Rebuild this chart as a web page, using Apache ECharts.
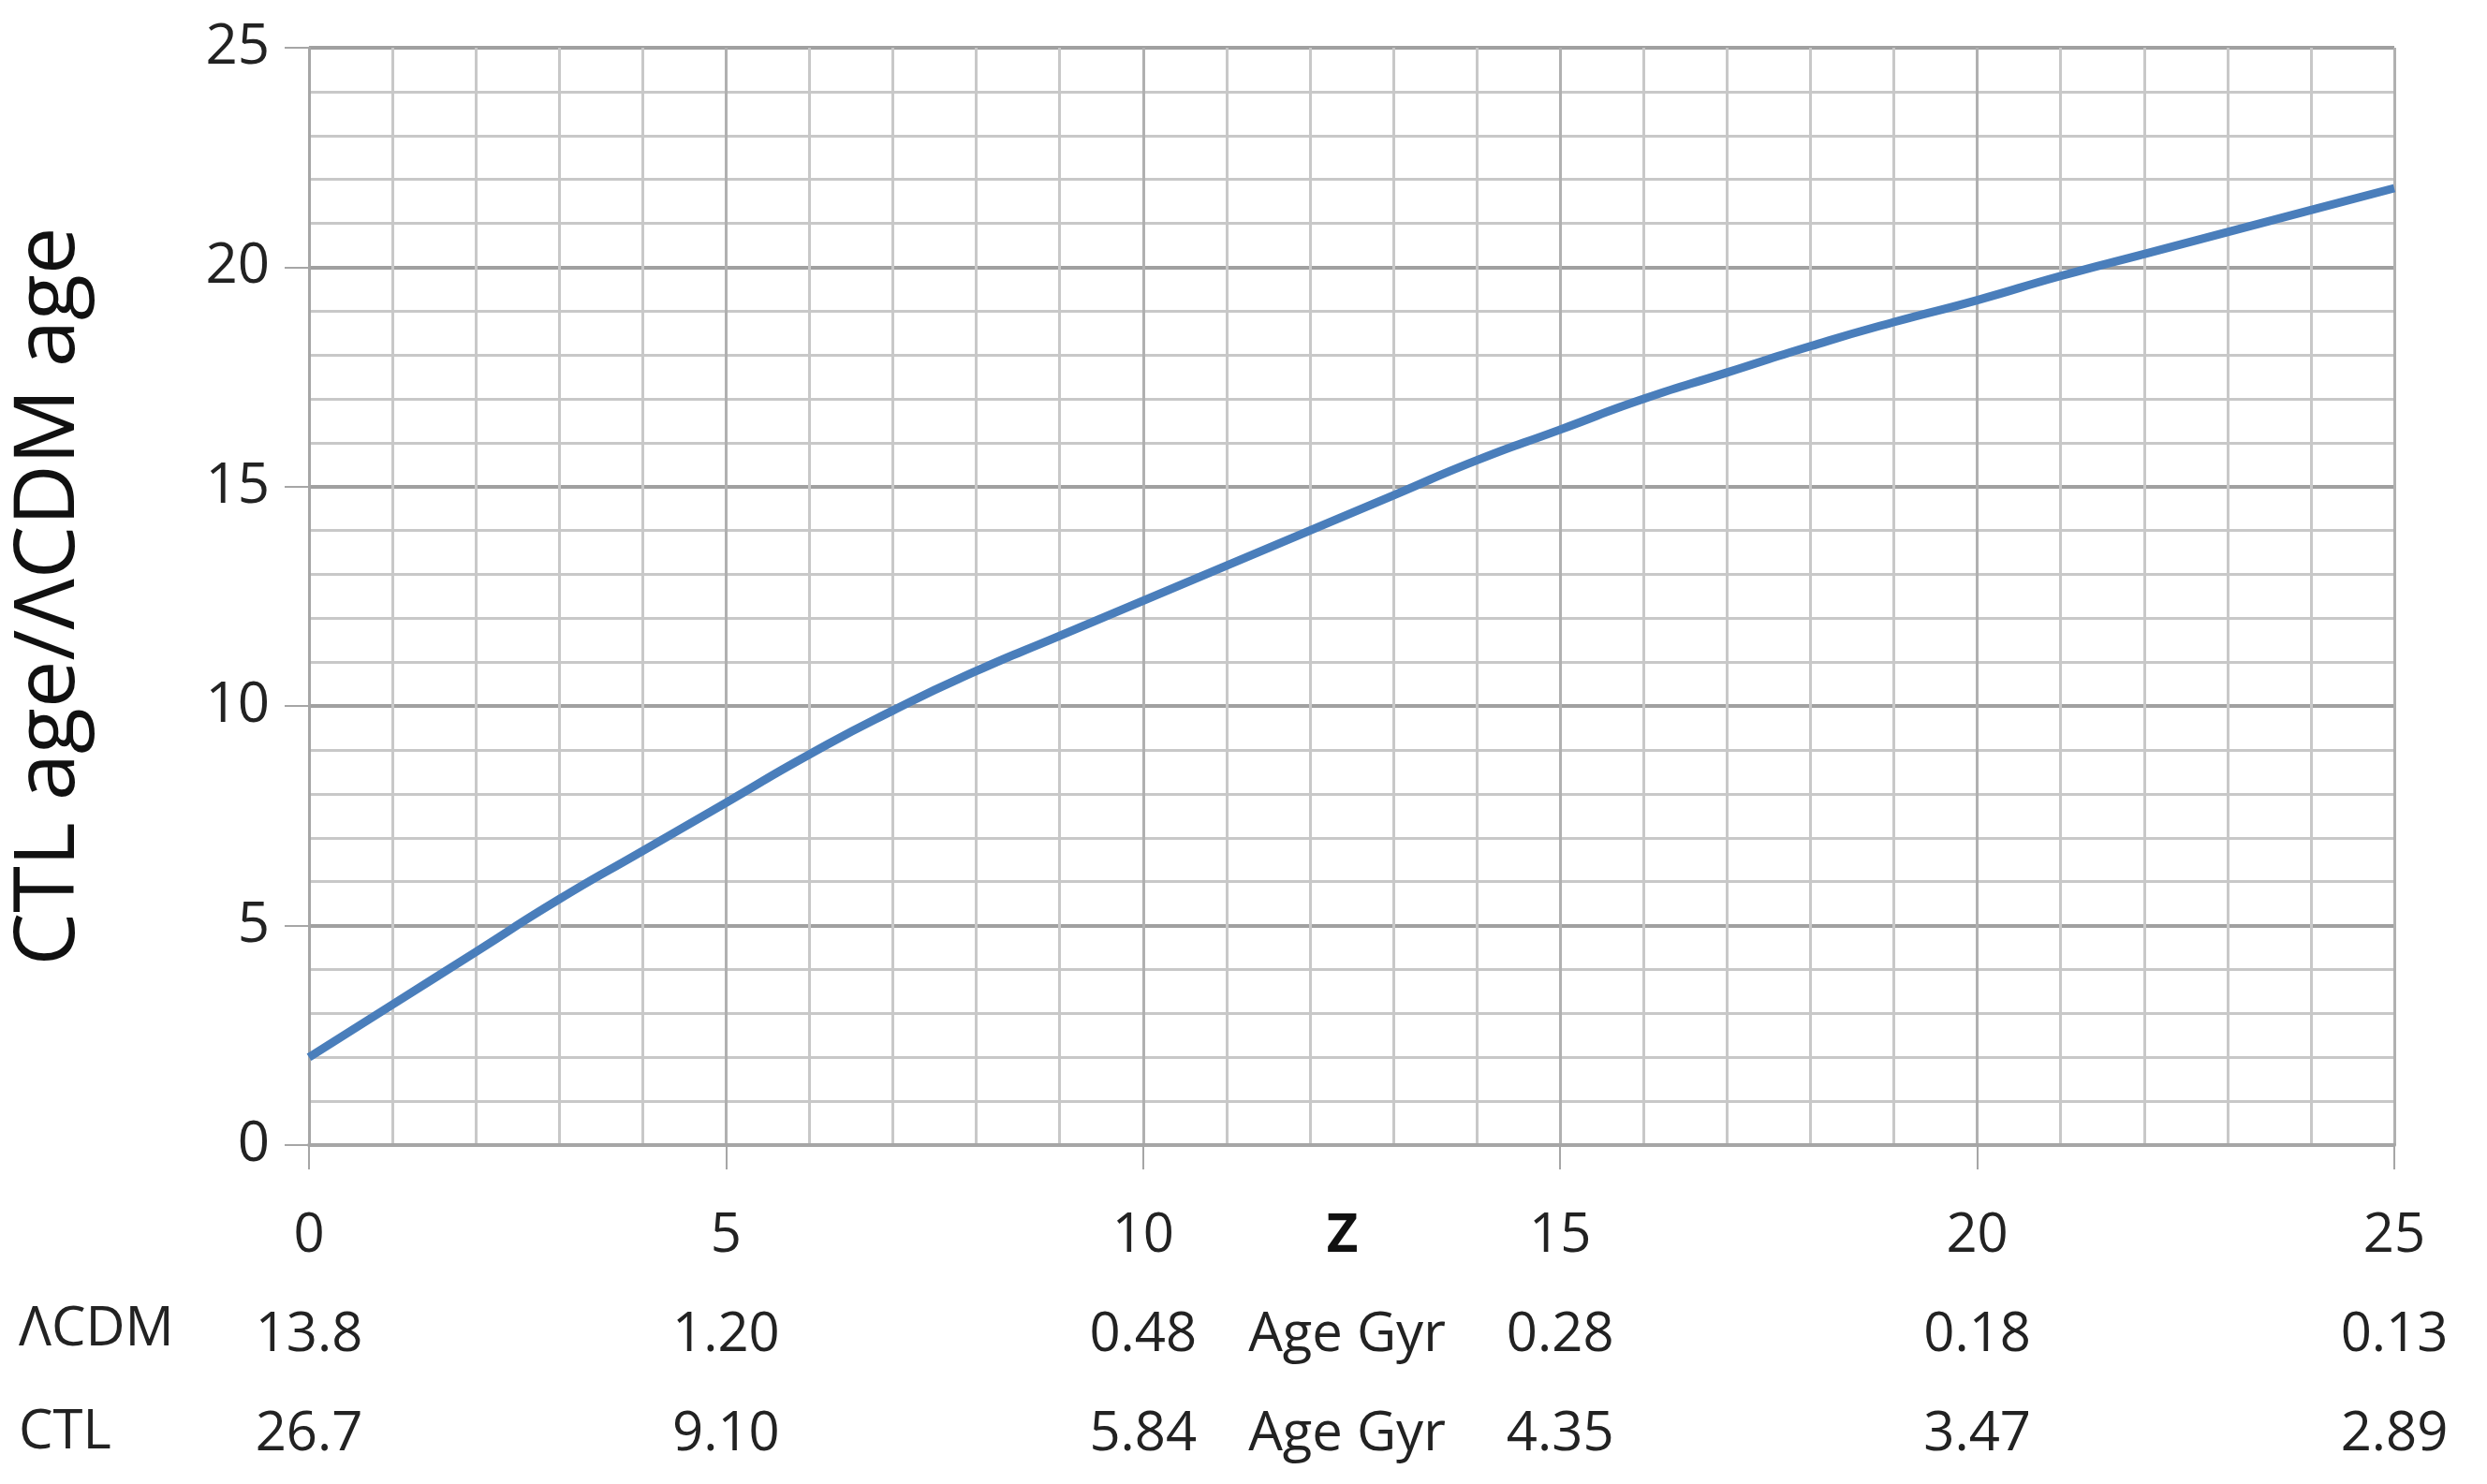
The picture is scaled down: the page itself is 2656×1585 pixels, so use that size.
<!DOCTYPE html>
<html><head><meta charset="utf-8">
<script src="https://cdn.jsdelivr.net/npm/echarts@6/dist/echarts.min.js"></script>
<style>html,body{margin:0;padding:0;background:#fff}#c{width:2656px;height:1585px}</style>
</head><body><div id="c"></div>
<script>
const zValues = [0,1,2,3,4,5,6,7,8,9,10,11,12,13,14,15,16,17,18,19,20,21,22,23,24,25];
const ageRatio = [2.0,3.2,4.4,5.6,6.7,7.8,8.9,9.9,10.8,11.6,12.4,13.2,14.0,14.8,15.6,16.3,17.0,17.6,18.2,18.75,19.25,19.8,20.3,20.8,21.3,21.8];
const tableZ = [0,5,10,15,20,25];
const lcdmAge = ['13.8','1.20','0.48','0.28','0.18','0.13'];
const ctlAge = ['26.7','9.10','5.84','4.35','3.47','2.89'];
const FONT = '"Open Sans", sans-serif';
const chart = echarts.init(document.getElementById('c'));
const data = zValues.map((z,i)=>[z,ageRatio[i]]);
chart.setOption({
  animation:false,
  grid:{left:329,right:99,top:51,bottom:356},
  xAxis:{type:'value',min:0,max:25,interval:5,
    axisLine:{lineStyle:{color:'#a6a6a6',width:4}},
    axisTick:{show:true,length:26,lineStyle:{color:'#a6a6a6',width:2}},
    splitLine:{show:true,lineStyle:{color:'#b0b0b0',width:3}},
    minorTick:{show:false,splitNumber:5},
    minorSplitLine:{show:true,lineStyle:{color:'#c8c8c8',width:3}},
    axisLabel:{margin:44,fontFamily:FONT,fontSize:58,color:'#222',lineHeight:106,
      formatter:function(v){const i=tableZ.indexOf(v);return v+'\n'+lcdmAge[i]+'\n'+ctlAge[i];}}
  },
  yAxis:{type:'value',min:0,max:25,interval:5,
    name:'CTL age/ΛCDM age',nameLocation:'middle',nameGap:232,
    nameTextStyle:{fontFamily:FONT,fontSize:90,color:'#111'},
    axisLine:{show:true,lineStyle:{color:'#a6a6a6',width:3}},
    axisTick:{show:true,length:26,lineStyle:{color:'#a6a6a6',width:2}},
    splitLine:{show:true,lineStyle:{color:'#a0a0a0',width:4}},
    minorTick:{show:false,splitNumber:5},
    minorSplitLine:{show:true,lineStyle:{color:'#c8c8c8',width:3}},
    axisLabel:{margin:42,fontFamily:FONT,fontSize:60,color:'#222'}
  },
  series:[{type:'line',data:data,smooth:0.6,showSymbol:false,
    lineStyle:{color:'#4a7ebb',width:9}}]
});
const px = chart.convertToPixel({gridIndex:0},[12.5,0]);
const yBase = px[1]+44;
chart.setOption({graphic:[
  {type:'text',left:20,top:yBase+106+18,style:{text:'ΛCDM',font:'58px '+FONT,fill:'#222'}},
  {type:'text',left:20,top:yBase+212+22,style:{text:'CTL',font:'58px '+FONT,fill:'#222'}},
  {type:'text',x:px[0]-10,y:yBase+53,style:{text:'Z',font:'bold 58px '+FONT,fill:'#111',align:'center',verticalAlign:'middle'}},
  {type:'text',x:px[0]-5,y:yBase+159,style:{text:'Age Gyr',font:'58px '+FONT,fill:'#222',align:'center',verticalAlign:'middle'}},
  {type:'text',x:px[0]-5,y:yBase+265,style:{text:'Age Gyr',font:'58px '+FONT,fill:'#222',align:'center',verticalAlign:'middle'}}
]});
</script></body></html>
